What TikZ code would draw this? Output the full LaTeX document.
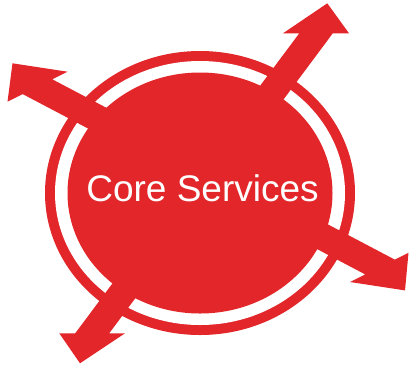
\documentclass[tikz,border=0pt]{standalone}
\usepackage{fontspec}
\setmainfont{Liberation Sans}
\definecolor{corered}{RGB}{226,38,42}
\begin{document}
\begin{tikzpicture}[x=1pt,y=-1pt,
  redfill/.style={fill=corered,draw=none},
  label/.style={text=white,font=\fontsize{37}{40}\selectfont,inner sep=0pt}]
\useasboundingbox (0,0) rectangle (409,368);
% circle with white ring
\fill[redfill] (200,193) ellipse [x radius=155, y radius=142];
\fill[white] (200,193) ellipse [x radius=145, y radius=132];
\fill[redfill] (200,193) ellipse [x radius=132.5, y radius=120.5];
% arrow: upper-right / lower-left
\fill[redfill] (327.3,3.3) -- (349,33.3) -- (332.8,33.3) -- (109.2,333.3) -- (125,333.3)
  -- (80,363.3) -- (59.3,333.3) -- (75.2,333.3) -- (299.3,33.3) -- (283,33.3) -- cycle;
% arrow: upper-left / lower-right
\fill[redfill] (12.5,63.3) -- (67.5,71.7) -- (52.3,79.3) -- (394.8,259.6) -- (408.5,252.8)
  -- (405,290.4) -- (350,282) -- (365.2,274.4) -- (22.7,94.1) -- (7.5,101.7) -- cycle;
% label
\node[label,anchor=base] (core) at (202.5,201.7) {Core Services};
\end{tikzpicture}
\end{document}
